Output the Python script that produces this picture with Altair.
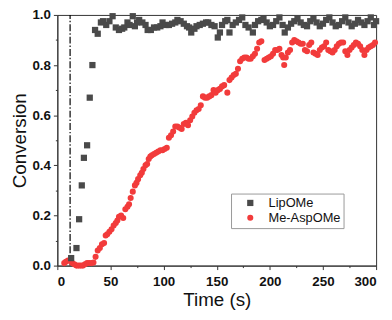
import altair as alt
import pandas as pd

series_names = ["LipOMe", "Me-AspOMe"]
series_colors = ["#4a4a4a", "#f23b3b"]
series_shapes = ["square", "circle"]
series_sizes = [40, 38]

lip_t = [13, 18, 20.5, 23, 25, 28, 30.5, 33, 35.5, 38, 41, 43, 46, 49, 52, 55, 58, 61, 63, 66,
         68, 71, 73, 75, 77, 80, 83, 85, 88, 91, 94, 97, 99, 102, 105, 108, 111, 113, 116, 119,
         122, 124, 126, 129, 131, 134, 137, 140, 142, 145, 148, 151, 153, 155, 158, 160, 162, 165, 168, 171,
         174, 177, 180, 184, 186, 189, 192, 194, 197, 200, 203, 206, 209, 212, 214, 217, 220, 223, 226, 229,
         232, 235, 238, 241, 244, 247, 250, 253, 256, 259, 262, 265, 268, 271, 274, 277, 280, 283, 286, 289,
         292, 295, 298, 300]
lip_v = [0.03, 0.07, 0.185, 0.32, 0.43, 0.48, 0.67, 0.80, 0.94, 0.925, 0.97, 0.975, 0.96, 0.975, 0.995, 0.95, 0.94, 0.945, 0.95, 0.97,
         0.96, 0.995, 0.955, 0.97, 0.98, 0.97, 0.96, 0.94, 0.94, 0.95, 0.95, 0.955, 0.97, 0.96, 0.96, 0.965, 0.97, 0.98, 0.975, 0.965,
         0.955, 0.95, 0.93, 0.945, 0.955, 0.96, 0.965, 0.97, 0.97, 0.96, 0.955, 0.91, 0.93, 0.96, 0.975, 0.98, 0.93, 0.96, 0.97, 0.98,
         0.99, 0.96, 0.95, 0.93, 0.96, 0.975, 0.98, 0.985, 0.97, 0.955, 0.96, 0.975, 0.99, 0.96, 0.93, 0.95, 0.965, 0.975, 0.985, 0.97,
         0.96, 0.955, 0.975, 0.985, 0.97, 0.955, 0.965, 0.98, 0.99, 0.97, 0.955, 0.96, 0.975, 0.99, 0.97, 0.955, 0.965, 0.98, 0.97, 0.96,
         0.975, 0.99, 0.96, 0.975]

asp_t = [6.5, 8, 10, 12, 14, 16, 18, 20, 22, 24, 26, 28, 30, 32, 34, 36, 38, 40, 42, 44,
         45.5, 47, 49, 51, 53, 55, 56.5, 58, 60, 62, 64, 66, 67.5, 69, 71, 73, 74.5, 76, 78, 79.5,
         81, 83, 84.5, 86, 87.5, 89, 91, 93, 95, 97, 99, 101, 103, 105, 107, 109, 111, 113, 115, 117,
         119, 121, 123, 125, 127, 129, 131, 133, 135, 137, 139, 141, 143, 145, 147, 149, 151, 153, 155, 157,
         160, 162, 164, 166, 168, 170, 172, 174, 176, 178, 180, 182, 184, 186, 188, 190, 192, 195, 197, 199,
         201, 203, 205, 207, 209, 211, 212.5, 213.5, 215, 217, 219, 221, 223, 225, 227, 229, 231, 233, 235, 237,
         239, 241, 243, 245, 247, 249, 251, 253, 255, 257, 259, 261, 263, 265, 267, 269, 271, 273, 275, 277,
         279, 281, 283, 285, 287, 289, 291, 293, 295, 297, 299]
asp_v = [0.01, 0.015, 0.02, 0.02, 0.01, 0.005, 0.0, 0.0, 0.0, 0.0, 0.005, 0.01, 0.01, 0.01, 0.012, 0.035, 0.06, 0.07, 0.085, 0.09,
         0.12, 0.125, 0.135, 0.145, 0.16, 0.17, 0.18, 0.195, 0.2, 0.19, 0.225, 0.235, 0.245, 0.27, 0.295, 0.32, 0.33, 0.345, 0.36, 0.37,
         0.385, 0.4, 0.405, 0.425, 0.435, 0.44, 0.445, 0.45, 0.455, 0.46, 0.46, 0.465, 0.47, 0.51, 0.52, 0.535, 0.555, 0.555, 0.55, 0.545,
         0.565, 0.57, 0.56, 0.58, 0.595, 0.61, 0.62, 0.625, 0.64, 0.675, 0.67, 0.67, 0.675, 0.68, 0.70, 0.69, 0.70, 0.705, 0.715, 0.72,
         0.69, 0.74, 0.75, 0.76, 0.765, 0.785, 0.815, 0.825, 0.83, 0.83, 0.825, 0.825, 0.835, 0.845, 0.865, 0.89, 0.895, 0.82, 0.825, 0.83,
         0.835, 0.845, 0.86, 0.86, 0.865, 0.84, 0.83, 0.80, 0.83, 0.85, 0.86, 0.89, 0.90, 0.895, 0.89, 0.885, 0.885, 0.86, 0.855, 0.88,
         0.89, 0.85, 0.845, 0.84, 0.86, 0.87, 0.875, 0.89, 0.86, 0.855, 0.85, 0.86, 0.875, 0.885, 0.89, 0.89, 0.855, 0.84, 0.86, 0.87,
         0.88, 0.89, 0.885, 0.875, 0.86, 0.84, 0.86, 0.87, 0.875, 0.88, 0.89]

marker_t = [12]
marker_lo = [0.0]
marker_hi = [1.0]

x_ticks = [0, 25, 50, 75, 100, 125, 150, 175, 200, 225, 250, 275, 300]
y_ticks = [0.0, 0.1, 0.2, 0.3, 0.4, 0.5, 0.6, 0.7, 0.8, 0.9, 1.0]

FONT = "Liberation Sans"

df = pd.concat([
    pd.DataFrame({"t": asp_t, "v": asp_v, "s": series_names[1]}),
    pd.DataFrame({"t": lip_t, "v": lip_v, "s": series_names[0]}),
], ignore_index=True)
df_rule = pd.DataFrame({"t": marker_t, "lo": marker_lo, "hi": marker_hi})

xs = alt.Scale(domain=[0, 300], nice=False, zero=False)
ys = alt.Scale(domain=[0, 1], nice=False, zero=False)

x_axis = alt.Axis(
    values=x_ticks, title="Time (s)", format="d",
    labelExpr="datum.value % 50 === 0 ? datum.label : ''",
    tickSize={"condition": {"test": "datum.value % 50 === 0", "value": 4}, "value": 2},
    labelPadding=5, titlePadding=3, grid=False,
)
y_axis = alt.Axis(
    values=y_ticks, title="Conversion", format=".1f",
    labelExpr="round(datum.value * 10) % 2 === 0 ? datum.label : ''",
    tickSize={"condition": {"test": "round(datum.value * 10) % 2 === 0", "value": 4}, "value": 2},
    labelPadding=3, titlePadding=2, grid=False,
)

legend = alt.Legend(
    title=None, orient="none", legendX=176, legendY=181,
    strokeColor="#999999", padding=3, symbolOffset=10, labelOffset=12,
    rowPadding=1, labelFontSize=13, labelFont=FONT, symbolSize=28,
    symbolStrokeWidth=0, labelColor="#111111",
)

points = alt.Chart(df).mark_point(filled=True, opacity=1, strokeWidth=0).encode(
    x=alt.X("t:Q", scale=xs, axis=x_axis),
    y=alt.Y("v:Q", scale=ys, axis=y_axis),
    color=alt.Color("s:N", scale=alt.Scale(domain=series_names, range=series_colors), legend=legend),
    shape=alt.Shape("s:N", scale=alt.Scale(domain=series_names, range=series_shapes), legend=legend),
    size=alt.Size("s:N", scale=alt.Scale(domain=series_names, range=series_sizes), legend=None),
)

rule = alt.Chart(df_rule).mark_rule(color="#000000", strokeWidth=1.2, strokeDash=[7, 2, 1.5, 2]).encode(
    x=alt.X("t:Q", scale=xs, axis=x_axis),
    y=alt.Y("lo:Q", scale=ys, axis=y_axis),
    y2="hi:Q",
)

chart = alt.layer(rule, points).properties(
    width=323, height=254,
    autosize=alt.AutoSizeParams(type="none"),
    padding={"left": 50, "top": 5, "right": 8, "bottom": 47},
).configure_view(
    stroke="#333333", strokeWidth=1,
).configure_axis(
    labelFont=FONT, labelFontSize=13.5, labelFontWeight="bold", labelColor="#111111",
    titleFont=FONT, titleFontSize=19, titleFontWeight="normal", titleColor="#111111",
    domainColor="#333333", tickColor="#333333", domainWidth=1, tickWidth=1,
)

chart.save("out.html", embed_options={"renderer": "svg", "actions": False})
